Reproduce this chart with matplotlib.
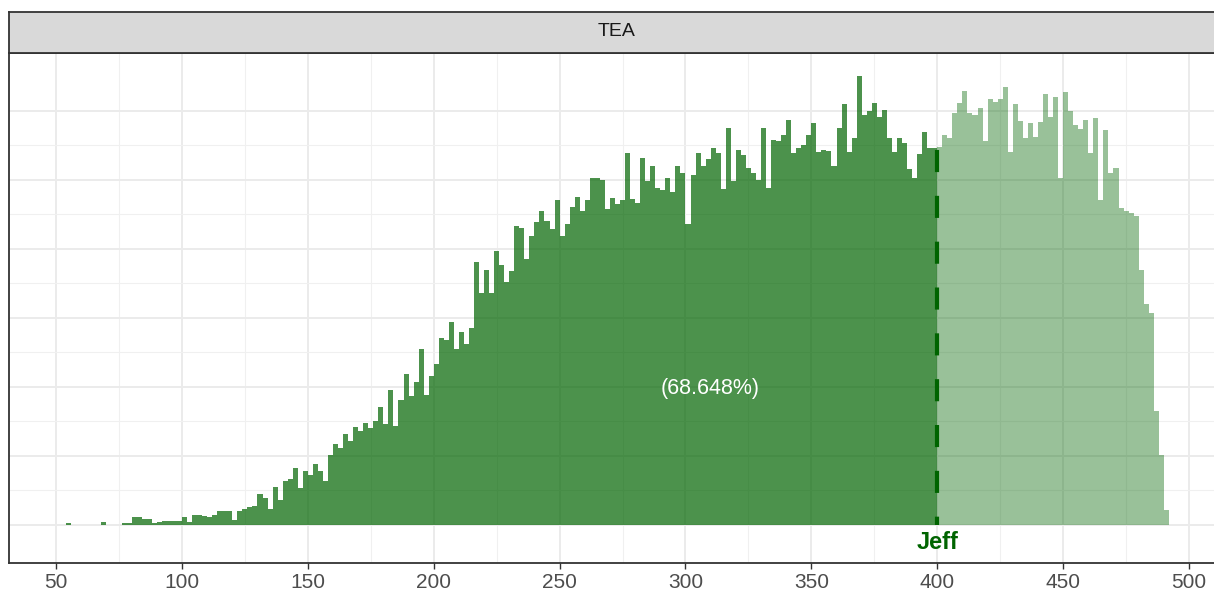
import numpy as np
import matplotlib
matplotlib.use("Agg")
import matplotlib.pyplot as plt

plt.rcParams['font.family'] = ['Liberation Sans', 'DejaVu Sans']

# histogram of TEA scores, bins of width 2 starting at 54
bin_start = 54
bin_width = 2
cutoff = 400          # Jeff's score
facet_label = "TEA"
person = "Jeff"
pct_label = "(68.648%)"

# counts for bins below the cutoff (54 .. 398)
counts_below = [
    2, 0, 0, 0, 0, 0, 0, 4, 0, 0, 0, 2, 2, 12, 12, 8, 8, 2, 4, 5, 5, 5, 5, 12, 4, 14, 14, 13, 11, 15, 20, 20, 20,
    7, 20, 23, 26, 27, 44, 39, 23, 55, 36, 63, 66, 83, 53, 78, 72, 88, 78, 64, 101, 117, 111, 132, 121, 142, 136,
    148, 140, 150, 170, 146,
    196, 143, 181, 218, 186, 207, 255, 188, 216, 233, 270, 268, 294, 255, 279, 262, 285,
    381, 336, 369, 336, 396, 376, 352, 367, 433,
    430, 385, 418, 439, 455, 440, 429, 471, 419, 436, 461, 475, 454, 470, 502, 502, 499, 458, 473, 465, 470, 539,
    472, 466, 531, 498, 519, 488, 485, 502, 482, 519, 510, 436,
    507, 538, 519, 530, 545, 538, 487, 575, 498, 543, 536, 517, 510, 500, 575, 488,
    558, 556, 564, 586, 539, 546, 550, 564, 582, 540, 543, 541, 520, 575, 610, 540, 560,
    650, 594, 600, 611, 590, 601, 560, 540, 560, 553, 515, 502, 537, 569, 546, 545,
]
# counts for bins from the cutoff on (400 .. 490)
counts_above = [
    547, 565, 560, 597, 611, 628, 597, 594, 604, 556, 617, 612, 616, 634, 540, 609, 585, 560,
    582, 561, 583, 624, 591, 619, 502,
    627, 600, 579, 573, 586, 539, 589, 470, 572, 509, 517, 459, 455, 451, 447, 369, 320, 307, 165, 101, 22,
]

edges_below = bin_start + bin_width * np.arange(len(counts_below) + 1)
edges_above = cutoff + bin_width * np.arange(len(counts_above) + 1)

W, H = 1214, 592
fig = plt.figure(figsize=(W / 100, H / 100), dpi=100)

# panel (extends slightly past the right edge like the reference)
px_left, px_right, px_top, px_bottom = 9, 1225, 52.5, 562.5
ax = fig.add_axes([px_left / W, 1 - px_bottom / H, (px_right - px_left) / W, (px_bottom - px_top) / H])
ax.set_xlim(31.3, 514.3)
ax.set_ylim(-54.5, 684)

ax.set_axisbelow(True)
ax.set_xticks(np.arange(50, 501, 50))
ax.set_xticks(np.arange(75, 476, 50), minor=True)
ax.set_yticks(np.arange(0, 601, 100))
ax.set_yticks(np.arange(50, 551, 100), minor=True)
ax.grid(which='major', color='#EBEBEB', linewidth=1.4)
ax.grid(which='minor', color='#F0F0F0', linewidth=0.8)

ax.stairs(counts_below, edges_below, fill=True, color='darkgreen', alpha=0.7, linewidth=0)
ax.stairs(counts_above, edges_above, fill=True, color='darkgreen', alpha=0.4, linewidth=0)

# dashed marker at Jeff's score
ax.plot([cutoff, cutoff], [counts_above[0] - 4, 0], color='darkgreen', linewidth=3,
        linestyle=(0, (5.3, 5.7)), dash_capstyle='butt')
ax.text(cutoff, -25, person, color='darkgreen', fontsize=17, fontweight='bold',
        ha='center', va='center')
ax.text(309.7, 197, pct_label, color='white', fontsize=15.5, ha='center', va='center')

ax.tick_params(axis='x', which='major', length=4.5, width=1, color='#333333',
               labelsize=15, labelcolor='#4D4D4D', pad=3)
ax.tick_params(axis='x', which='minor', length=0)
ax.tick_params(axis='y', which='both', length=0, labelleft=False)
for side in ax.spines.values():
    side.set_color('#333333')
    side.set_linewidth(1.3)

# facet strip
sx = fig.add_axes([px_left / W, 1 - px_top / H, (px_right - px_left) / W, (px_top - 11.5) / H])
sx.set_facecolor('#D9D9D9')
sx.set_xticks([])
sx.set_yticks([])
for side in sx.spines.values():
    side.set_color('#333333')
    side.set_linewidth(1.3)
sx.text((617 - px_left) / (px_right - px_left), 0.5, facet_label, transform=sx.transAxes,
        ha='center', va='center', fontsize=14, color='#1A1A1A')

fig.savefig('out.png', dpi=100)
